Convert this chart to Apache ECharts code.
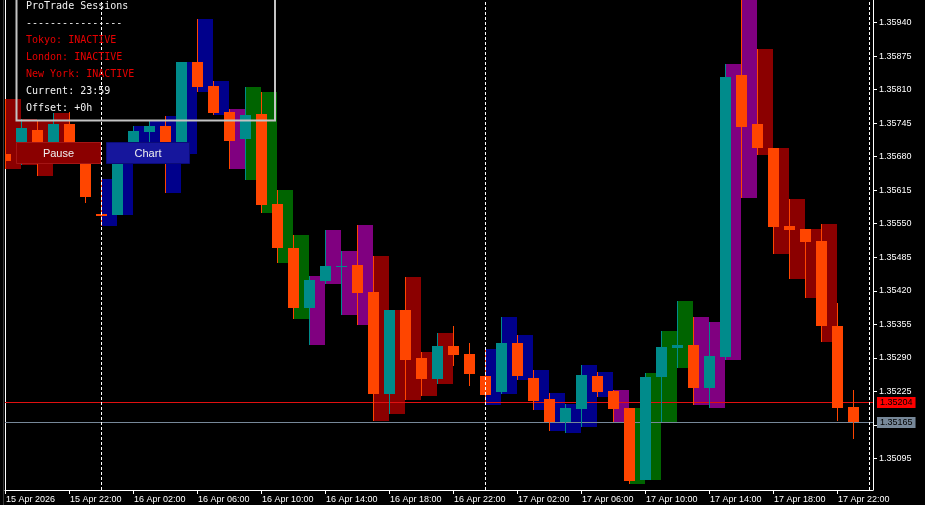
<!DOCTYPE html>
<html><head><meta charset="utf-8">
<script src="https://cdn.jsdelivr.net/npm/echarts@6/dist/echarts.min.js"></script>
<style>html,body{margin:0;padding:0;background:#000;}#c{width:925px;height:505px;}</style>
</head><body><div id="c"></div>
<script>
// hourly bars, index 0 = 15 Apr 18:00
const candleHours = [18,19,20,21,22,23,0,1,2,3,4,5,6,7,8,9,10,11,12,13,14,15,16,17,18,19,20,21,22,23,0,1,2,3,4,5,6,7,8,9,10,11,12,13,14,15,16,17,18,19,20,21,22,23];
const openPrices  = [1.35685,1.35709,1.35732,1.35707,1.35743,1.35701,1.35569,1.35566,1.35693,1.35728,1.35740,1.35697,1.35864,1.35817,1.35767,1.35714,1.35763,1.35588,1.35503,1.35387,1.35438,1.35467,1.35470,1.35418,1.35220,1.35383,1.35289,1.35249,1.35313,1.35297,1.35255,1.35224,1.35319,1.35251,1.35210,1.35166,1.35191,1.35255,1.35225,1.35192,1.35053,1.35253,1.35309,1.35315,1.35232,1.35292,1.35839,1.35743,1.35697,1.35546,1.35540,1.35516,1.35352,1.35194];
const closePrices = [1.35672,1.35736,1.35707,1.35743,1.35703,1.35602,1.35565,1.35693,1.35730,1.35740,1.35703,1.35864,1.35816,1.35765,1.35711,1.35761,1.35587,1.35503,1.35387,1.35441,1.35468,1.35468,1.35416,1.35220,1.35383,1.35286,1.35249,1.35313,1.35295,1.35259,1.35218,1.35319,1.35255,1.35207,1.35166,1.35192,1.35257,1.35224,1.35191,1.35051,1.35253,1.35311,1.35315,1.35232,1.35293,1.35835,1.35738,1.35696,1.35544,1.35538,1.35515,1.35352,1.35193,1.35166];
const highPrices  = [1.35792,1.35753,1.35750,1.35765,1.35767,1.35707,1.35637,1.35697,1.35740,1.35751,1.35759,1.35864,1.35947,1.35827,1.35773,1.35815,1.35806,1.35615,1.35528,1.35449,1.35538,1.35497,1.35548,1.35487,1.35383,1.35447,1.35301,1.35338,1.35352,1.35319,1.35307,1.35369,1.35334,1.35266,1.35222,1.35200,1.35276,1.35262,1.35227,1.35192,1.35260,1.35342,1.35400,1.35369,1.35359,1.35860,1.35994,1.35889,1.35697,1.35598,1.35540,1.35549,1.35396,1.35227];
const lowPrices   = [1.35656,1.35664,1.35643,1.35693,1.35693,1.35590,1.35546,1.35566,1.35677,1.35693,1.35610,1.35685,1.35805,1.35760,1.35657,1.35635,1.35571,1.35474,1.35366,1.35315,1.35434,1.35372,1.35354,1.35167,1.35180,1.35209,1.35216,1.35240,1.35275,1.35236,1.35199,1.35220,1.35247,1.35189,1.35147,1.35145,1.35156,1.35214,1.35166,1.35046,1.35053,1.35166,1.35271,1.35199,1.35193,1.35286,1.35600,1.35684,1.35492,1.35443,1.35405,1.35321,1.35168,1.35133];
// session of each hour of the day
const sessionByHour = ['TK','TK','TK','TK','TK','TK','TK','TK','OV','LD','LD','LD','LD','OV','OV','OV','OV','NY','NY','NY','NY','NY','',''];
const sessionColors = {TK:'#00008B', OV:'#800080', LD:'#006400', NY:'#8B0000'};

const xTickIndex  = [0,4,8,12,16,20,24,28,32,36,40,44,48,52];
const xTickLabels = ['15 Apr 2026','15 Apr 22:00','16 Apr 02:00','16 Apr 06:00','16 Apr 10:00','16 Apr 14:00','16 Apr 18:00','16 Apr 22:00','17 Apr 02:00','17 Apr 06:00','17 Apr 10:00','17 Apr 14:00','17 Apr 18:00','17 Apr 22:00'];
const yTickValues = [1.35095,1.35160,1.35225,1.35290,1.35355,1.35420,1.35485,1.35550,1.35615,1.35680,1.35745,1.35810,1.35875,1.35940];
const yLabelValues = [1.35095,1.35225,1.35290,1.35355,1.35420,1.35485,1.35550,1.35615,1.35680,1.35745,1.35810,1.35875,1.35940];
const daySeparators = [6,30,54];
const priceLevels = [1.35204, 1.35165];           // bid, last
const priceLineColors = ['#e01010', '#778899'];
const priceLabelColors = ['#ff0000', '#778899'];

const panelLines = [
  {t:'ProTrade Sessions', c:'#f2f2f2'},
  {t:'----------------', c:'#f2f2f2'},
  {t:'Tokyo: INACTIVE', c:'#e60000'},
  {t:'London: INACTIVE', c:'#e60000'},
  {t:'New York: INACTIVE', c:'#e60000'},
  {t:'Current: 23:59', c:'#f2f2f2'},
  {t:'Offset: +0h', c:'#f2f2f2'}
];

const X_MAX = 54.25;
const barData = openPrices.map((o,i)=>[i,o,closePrices[i],highPrices[i],lowPrices[i]]);
const closeLine = closePrices.map((c,i)=>[i,c]);
const priceData = priceLevels.map((p,k)=>[k,p]);
const labelFont = 'Liberation Sans, Arial, sans-serif';

function renderBox(params, api){
  const i = api.value(0);
  const s = sessionByHour[candleHours[i]];
  if(!s) return null;
  const pH = api.coord([i, api.value(3)]);
  const pL = api.coord([i, api.value(4)]);
  const w = api.size([1,0])[0];
  const x = Math.round(pH[0]);
  return {type:'rect', shape:{x:x, y:Math.round(pH[1]), width:w, height:Math.round(pL[1])-Math.round(pH[1])}, style:{fill:sessionColors[s]}};
}
function renderCandle(params, api){
  const i = api.value(0);
  const o = api.value(1), c = api.value(2);
  const pO = api.coord([i,o]), pC = api.coord([i,c]);
  const pH = api.coord([i,api.value(3)]), pL = api.coord([i,api.value(4)]);
  const x = Math.round(pO[0]);
  const color = c > o ? '#008B8B' : '#FF4500';
  const top = Math.round(Math.min(pO[1],pC[1])), bot = Math.round(Math.max(pO[1],pC[1]));
  return {type:'group', children:[
    {type:'rect', shape:{x:x, y:Math.round(pH[1]), width:1, height:Math.round(pL[1])-Math.round(pH[1])}, style:{fill:color}},
    {type:'rect', shape:{x:x-5, y:top, width:11, height:Math.max(1,bot-top)}, style:{fill:color}}
  ]};
}
function renderPriceLine(params, api){
  const k = api.value(0), p = api.value(1);
  const a = api.coord([0, p]), b = api.coord([X_MAX, p]);
  const y = Math.round(a[1]) + 0.5;
  return {type:'group', children:[
    {type:'line', shape:{x1:a[0], y1:y, x2:b[0], y2:y}, style:{stroke:priceLineColors[k], lineWidth:1}},
    {type:'text', z2:10, style:{x:b[0]+4, y:y, text:p.toFixed(5), fill:'#000000', font:'9px '+labelFont,
      backgroundColor:priceLabelColors[k], padding:[1,3,1,3], lineHeight:9, align:'left', verticalAlign:'middle'}}
  ]};
}

const graphics = [
  {type:'rect', z:100, shape:{x:3, y:0, width:1, height:505}, style:{fill:'#3a3a3a'}},
  {type:'rect', z:100, shape:{x:16.5, y:-3, width:258.5, height:123.5}, style:{fill:'none', stroke:'#c4c4c4', lineWidth:2}},
  {type:'rect', z:100, shape:{x:16.5, y:142.5, width:84, height:21}, style:{fill:'#8b0000', stroke:'#a41515', lineWidth:1}},
  {type:'text', z:101, style:{x:58.5, y:153.5, text:'Pause', fill:'#f0f0f0', font:'11px '+labelFont, align:'center', verticalAlign:'middle'}},
  {type:'rect', z:100, shape:{x:106.5, y:142.5, width:83, height:21}, style:{fill:'#16169c', stroke:'#0b0b78', lineWidth:1}},
  {type:'text', z:101, style:{x:148, y:153.5, text:'Chart', fill:'#f0f0f0', font:'11px '+labelFont, align:'center', verticalAlign:'middle'}}
];
panelLines.forEach((ln,k)=>{
  graphics.push({type:'text', z:101, style:{x:26, y:6.5+17*k, text:ln.t, fill:ln.c, font:'10px "DejaVu Sans Mono", monospace', align:'left', verticalAlign:'middle'}});
});

const chart = echarts.init(document.getElementById('c'), null, {renderer:'canvas'});
chart.setOption({
  backgroundColor:'#000000',
  animation:false,
  grid:{left:5, right:52, top:0, height:490},
  xAxis:{
    type:'value', min:0, max:X_MAX,
    splitLine:{show:false},
    axisLine:{show:true, onZero:false, lineStyle:{color:'#ffffff', width:1}},
    axisTick:{show:true, customValues:xTickIndex, length:4, lineStyle:{color:'#ffffff'}},
    axisLabel:{show:true, customValues:xTickIndex, color:'#ffffff', fontSize:9, fontFamily:labelFont, align:'left', margin:5, padding:[0,0,0,1], hideOverlap:false,
      formatter:(v)=>xTickLabels[xTickIndex.indexOf(Math.round(v))]}
  },
  yAxis:[{
    type:'value', position:'right', min:1.350335, max:1.35984,
    splitLine:{show:false},
    axisLine:{show:true, onZero:false, lineStyle:{color:'#ffffff', width:1}},
    axisTick:{show:true, customValues:yTickValues, length:4, lineStyle:{color:'#ffffff'}},
    axisLabel:{show:true, customValues:yLabelValues, color:'#ffffff', fontSize:9, fontFamily:labelFont, margin:6, hideOverlap:false,
      formatter:(v)=>v.toFixed(5)}
  },{
    type:'value', position:'left', min:1.350335, max:1.35984,
    splitLine:{show:false}, axisTick:{show:false}, axisLabel:{show:false},
    axisLine:{show:true, onZero:false, lineStyle:{color:'#ffffff', width:1}}
  }],
  graphic:graphics,
  series:[
    {type:'line', data:closeLine, z:1, silent:true, symbol:'none', lineStyle:{opacity:0},
      markLine:{silent:true, symbol:'none', animation:false,
        data:daySeparators.map(v=>({xAxis:v})),
        lineStyle:{color:'#ffffff', type:[3,2], width:1},
        label:{show:false}}
    },
    {type:'custom', name:'sessions', z:2, clip:true, renderItem:renderBox, data:barData, encode:{x:0, y:[1,2,3,4]}},
    {type:'custom', name:'price lines', z:3, clip:false, silent:true, renderItem:renderPriceLine, data:priceData, encode:{x:0, y:1}},
    {type:'custom', name:'bars', z:4, clip:true, renderItem:renderCandle, data:barData, encode:{x:0, y:[1,2,3,4]}}
  ]
});
</script></body></html>
